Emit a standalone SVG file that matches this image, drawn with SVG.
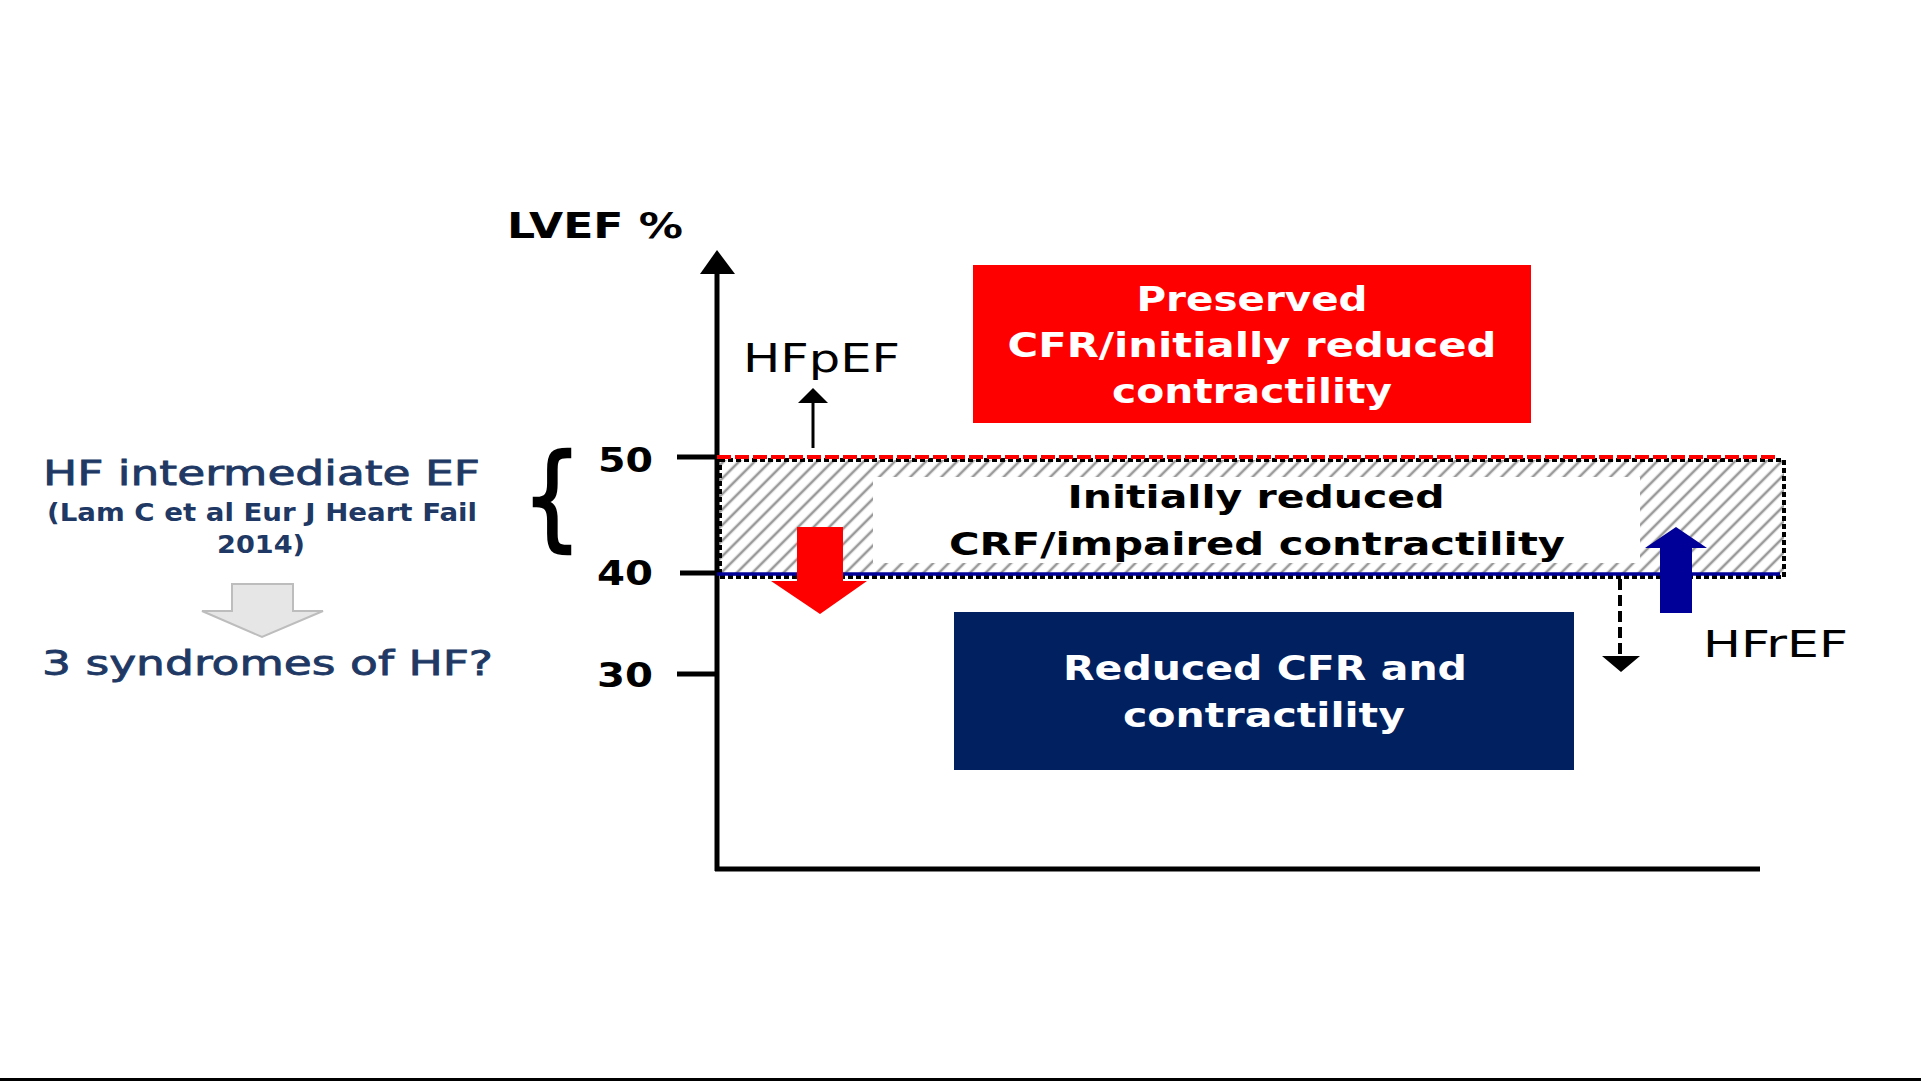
<svg xmlns="http://www.w3.org/2000/svg" width="1921" height="1081" viewBox="0 0 1921 1081">
<style>
  text { font-family: "DejaVu Sans", "Liberation Sans", sans-serif; }
  .b { font-weight: bold; }
  .lbl { fill: #000; }
  .left { fill: #203864; }
  .semi { stroke: #203864; stroke-width: 0.8; }
  .wt { fill: #fff; font-weight: bold; font-size: 33px; }
  .axis { stroke: #000; stroke-width: 5; fill: none; }
  .tick { font-weight: bold; font-size: 33px; fill: #000; }
</style>
<defs>
  <pattern id="hatch" patternUnits="userSpaceOnUse" width="11" height="11" patternTransform="rotate(45)">
    <rect width="11" height="11" fill="#fff"/>
    <line x1="2" y1="0" x2="2" y2="11" stroke="#9a9a9a" stroke-width="2.6"/>
  </pattern>
</defs>
<rect x="0" y="0" width="1921" height="1081" fill="#fff"/>

<g id="left-labels">
  <text class="left semi" x="43" y="485" font-size="34" textLength="437" lengthAdjust="spacingAndGlyphs">HF intermediate EF</text>
  <text class="left b" x="47" y="521" font-size="25" textLength="430" lengthAdjust="spacingAndGlyphs">(Lam C et al Eur J Heart Fail</text>
  <text class="left b" x="217" y="553" font-size="25" textLength="88" lengthAdjust="spacingAndGlyphs">2014)</text>
  <polygon points="232,584 293,584 293,611 323,611 262,637 202,611 232,611" fill="#e6e6e6" stroke="#bdbdbd" stroke-width="2"/>
  <text class="left semi" x="42" y="675" font-size="34" textLength="451" lengthAdjust="spacingAndGlyphs">3 syndromes of HF?</text>
</g>

<g id="brace">
  <text x="522" y="536" font-size="114" fill="#000" stroke="#000" stroke-width="2.5" textLength="60" lengthAdjust="spacingAndGlyphs">{</text>
</g>

<g id="axes">
  <text class="lbl b" x="507" y="238" font-size="36" textLength="176" lengthAdjust="spacingAndGlyphs">LVEF %</text>
  <line class="axis" x1="717" y1="270" x2="717" y2="871"/>
  <polygon points="717,250 700,274 735,274" fill="#000"/>
  <line class="axis" x1="715" y1="869" x2="1760" y2="869"/>
  <line class="axis" x1="677" y1="457" x2="717" y2="457"/>
  <line class="axis" x1="680" y1="573" x2="717" y2="573"/>
  <line class="axis" x1="677" y1="674" x2="717" y2="674"/>
  <text class="tick" x="598" y="472" textLength="55" lengthAdjust="spacingAndGlyphs">50</text>
  <text class="tick" x="597" y="585" textLength="56" lengthAdjust="spacingAndGlyphs">40</text>
  <text class="tick" x="597" y="687" textLength="56" lengthAdjust="spacingAndGlyphs">30</text>
</g>

<g id="intermediate-band">
  <rect x="720" y="460" width="1064" height="116" fill="url(#hatch)"/>
  <rect x="873" y="477" width="767" height="86" fill="#fff"/>
  <rect x="720" y="460" width="1064" height="117" fill="none" stroke="#000" stroke-width="4" stroke-dasharray="5 3"/>
  <line x1="717" y1="457" x2="1777" y2="457" stroke="#ff0000" stroke-width="4" stroke-dasharray="14 4"/>
  <line x1="717" y1="574" x2="1780" y2="574" stroke="#000099" stroke-width="3.5"/>
  <text class="lbl b" x="1256" y="508" font-size="32" text-anchor="middle" textLength="377" lengthAdjust="spacingAndGlyphs">Initially reduced</text>
  <text class="lbl b" x="1257" y="555" font-size="32" text-anchor="middle" textLength="616" lengthAdjust="spacingAndGlyphs">CRF/impaired contractility</text>
</g>

<g id="preserved-box">
  <rect x="973" y="265" width="558" height="158" fill="#ff0000"/>
  <text class="wt" x="1252" y="311" text-anchor="middle" textLength="231" lengthAdjust="spacingAndGlyphs">Preserved</text>
  <text class="wt" x="1252" y="357" text-anchor="middle" textLength="489" lengthAdjust="spacingAndGlyphs">CFR/initially reduced</text>
  <text class="wt" x="1252" y="403" text-anchor="middle" textLength="280" lengthAdjust="spacingAndGlyphs">contractility</text>
</g>

<g id="reduced-box">
  <rect x="954" y="612" width="620" height="158" fill="#002060"/>
  <text class="wt" x="1265" y="680" text-anchor="middle" textLength="404" lengthAdjust="spacingAndGlyphs">Reduced CFR and</text>
  <text class="wt" x="1264" y="727" text-anchor="middle" textLength="282" lengthAdjust="spacingAndGlyphs">contractility</text>
</g>

<g id="hfpef-label">
  <text class="lbl" x="743" y="372" font-size="39" textLength="157" lengthAdjust="spacingAndGlyphs">HFpEF</text>
</g>
<g id="hfref-label">
  <text class="lbl" x="1703" y="657" font-size="37" textLength="145" lengthAdjust="spacingAndGlyphs">HFrEF</text>
</g>

<g id="connectors">
  <line x1="813" y1="448" x2="813" y2="400" stroke="#000" stroke-width="3"/>
  <polygon points="813,388 798,403 828,403" fill="#000"/>
  <polygon points="797,527 843,527 843,581 867,581 820,614 771,581 797,581" fill="#ff0000"/>
  <polygon points="1660,613 1692,613 1692,548 1707,548 1676,527 1645,548 1660,548" fill="#000099"/>
  <line x1="1620" y1="579" x2="1620" y2="656" stroke="#000" stroke-width="4" stroke-dasharray="11 5"/>
  <polygon points="1602,656 1640,656 1621,672" fill="#000"/>
</g>

<rect x="0" y="1078" width="1921" height="3" fill="#000"/>
</svg>
